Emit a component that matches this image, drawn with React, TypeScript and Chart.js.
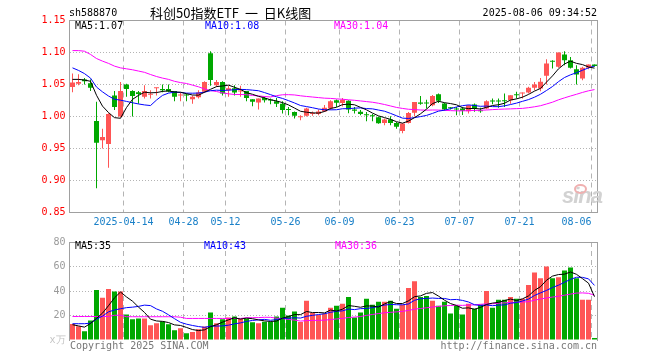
import React, { useEffect, useRef } from "react";
import { Chart, registerables } from "chart.js";

Chart.register(...registerables);

// ---------- data ----------
const dates = [
  "2025-03-31",
  "2025-04-01", "2025-04-02", "2025-04-03", "2025-04-07", "2025-04-08", "2025-04-09", "2025-04-10", "2025-04-11",
  "2025-04-14", "2025-04-15", "2025-04-16", "2025-04-17", "2025-04-18", "2025-04-21", "2025-04-22", "2025-04-23",
  "2025-04-24", "2025-04-25", "2025-04-28", "2025-04-29", "2025-04-30",
  "2025-05-06", "2025-05-07", "2025-05-08", "2025-05-09", "2025-05-12", "2025-05-13", "2025-05-14", "2025-05-15",
  "2025-05-16", "2025-05-19", "2025-05-20", "2025-05-21", "2025-05-22", "2025-05-23", "2025-05-26", "2025-05-27",
  "2025-05-28", "2025-05-29", "2025-05-30",
  "2025-06-03", "2025-06-04", "2025-06-05", "2025-06-06", "2025-06-09", "2025-06-10", "2025-06-11", "2025-06-12",
  "2025-06-13", "2025-06-16", "2025-06-17", "2025-06-18", "2025-06-19", "2025-06-20", "2025-06-23", "2025-06-24",
  "2025-06-25", "2025-06-26", "2025-06-27", "2025-06-30",
  "2025-07-01", "2025-07-02", "2025-07-03", "2025-07-04", "2025-07-07", "2025-07-08", "2025-07-09", "2025-07-10",
  "2025-07-11", "2025-07-14", "2025-07-15", "2025-07-16", "2025-07-17", "2025-07-18", "2025-07-21", "2025-07-22",
  "2025-07-23", "2025-07-24", "2025-07-25", "2025-07-28", "2025-07-29", "2025-07-30", "2025-07-31",
  "2025-08-01", "2025-08-04", "2025-08-05", "2025-08-06",
];

const opens = [
  1.046, 1.051, 1.058, 1.052, 0.993, 0.963, 0.957, 1.033, 1.0, 1.05,
  1.04, 1.038, 1.031, 1.034, 1.044, 1.043, 1.043, 1.04, 1.033, 1.034,
  1.027, 1.03, 1.0385, 1.099, 1.049, 1.054, 1.041, 1.044, 1.039, 1.04,
  1.027, 1.022, 1.029, 1.0265, 1.024, 1.02, 1.011, 1.007, 0.999, 1.001,
  1.004, 1.004, 1.008, 1.0125, 1.0255, 1.021, 1.0245, 1.011, 1.0075, 1.003,
  1.0015, 0.999, 0.99, 0.9955, 0.99, 0.9775, 0.99, 1.006, 1.022, 1.021,
  1.0175, 1.0348, 1.0205, 1.0135, 1.012, 1.0125, 1.0083, 1.0187, 1.0093, 1.0125,
  1.0245, 1.0245, 1.0255, 1.0255, 1.0335, 1.036, 1.0375, 1.0448, 1.0437, 1.0635,
  1.0865, 1.0776, 1.0969, 1.088, 1.074, 1.0594, 1.076, 1.0813,
];
const highs = [
  1.067, 1.066, 1.06, 1.058, 1.023, 0.981, 1.005, 1.04, 1.054, 1.051,
  1.041, 1.04, 1.049, 1.041, 1.045, 1.05, 1.05, 1.04, 1.037, 1.036,
  1.033, 1.041, 1.055, 1.102, 1.057, 1.055, 1.048, 1.049, 1.048, 1.04,
  1.027, 1.028, 1.031, 1.028, 1.029, 1.024, 1.015, 1.008, 1.002, 1.0135,
  1.008, 1.011, 1.018, 1.0255, 1.0265, 1.029, 1.0255, 1.015, 1.01, 1.007,
  1.004, 1.0, 0.997, 1.0005, 0.9915, 0.99, 1.007, 1.0225, 1.032, 1.026,
  1.0335, 1.036, 1.0215, 1.015, 1.015, 1.015, 1.0177, 1.0203, 1.0135, 1.0255,
  1.028, 1.028, 1.036, 1.0333, 1.0385, 1.0375, 1.0463, 1.054, 1.06, 1.0896,
  1.088, 1.1, 1.102, 1.093, 1.08, 1.0776, 1.0813, 1.0813,
];
const lows = [
  1.038, 1.049, 1.05, 1.04, 0.888, 0.95, 0.92, 1.01, 0.999, 1.031,
  1.0, 1.02, 1.028, 1.028, 1.033, 1.038, 1.038, 1.024, 1.024, 1.024,
  1.02, 1.028, 1.037, 1.048, 1.046, 1.033, 1.031, 1.033, 1.031, 1.024,
  1.016, 1.011, 1.022, 1.019, 1.015, 1.0047, 1.002, 0.997, 0.994, 1.0,
  1.001, 1.002, 1.007, 1.01, 1.015, 1.0155, 1.005, 1.0045, 1.002, 0.9925,
  0.9925, 0.9885, 0.9865, 0.9865, 0.981, 0.974, 0.989, 1.0, 1.0185, 1.0125,
  1.016, 1.021, 1.009, 1.011, 1.002, 1.0025, 1.0047, 1.0073, 1.0057, 1.0115,
  1.019, 1.0135, 1.015, 1.02, 1.028, 1.028, 1.036, 1.041, 1.0396, 1.05,
  1.075, 1.076, 1.08, 1.075, 1.05, 1.0568, 1.074, 1.0776,
];
const closes = [
  1.053, 1.054, 1.055, 1.045, 0.959, 0.968, 1.004, 1.015, 1.04, 1.043,
  1.032, 1.035, 1.04, 1.035, 1.045, 1.041, 1.039, 1.031, 1.034, 1.033,
  1.031, 1.0375, 1.054, 1.057, 1.054, 1.036, 1.044, 1.0375, 1.04, 1.029,
  1.023, 1.028, 1.0255, 1.025, 1.02, 1.01, 1.01, 1.001, 1.0, 1.0125,
  1.005, 1.008, 1.0135, 1.024, 1.0215, 1.026, 1.011, 1.009, 1.004, 1.002,
  1.0005, 0.9895, 0.9955, 0.99, 0.984, 0.989, 1.0055, 1.0225, 1.02, 1.0205,
  1.032, 1.0245, 1.011, 1.013, 1.011, 1.009, 1.0177, 1.0125, 1.0083, 1.024,
  1.0235, 1.0235, 1.024, 1.0333, 1.0333, 1.037, 1.0448, 1.05, 1.0542, 1.0828,
  1.0855, 1.1, 1.088, 1.076, 1.0656, 1.076, 1.0813, 1.079,
];
const volumes = [
  13.0, 11.3, 7.2, 16.0, 40.8, 34.4, 41.6, 39.5, 39.5, 20.8,
  17.0, 17.6, 17.6, 12.0, 13.6, 15.2, 12.9, 8.0, 9.6, 5.6,
  6.5, 8.8, 11.0, 22.4, 13.6, 16.9, 18.4, 19.1, 17.4, 17.6,
  14.4, 13.6, 15.0, 15.0, 19.2, 26.4, 20.0, 23.2, 14.7, 32.0,
  22.0, 20.4, 21.4, 26.4, 28.0, 29.6, 35.2, 18.4, 22.4, 33.6,
  28.8, 31.2, 31.2, 32.0, 25.6, 28.8, 42.4, 48.0, 35.2, 36.0,
  32.0, 28.0, 31.2, 21.6, 28.0, 20.8, 29.6, 25.6, 29.0, 40.0,
  26.4, 32.8, 32.8, 35.2, 33.6, 33.6, 44.8, 55.2, 50.4, 60.0,
  50.4, 51.2, 56.8, 59.2, 50.4, 32.8, 32.8, 1.6,
];

// moving-average values before a full window exists
const ma5Lead = [1.058, 1.058, 1.057, 1.055];
const ma10Lead = [1.076, 1.072, 1.067, 1.06, 1.046, 1.0385, 1.032, 1.027, 1.0255];
const ma30Lead = [
  1.103, 1.103, 1.102, 1.097, 1.0906, 1.0865, 1.083, 1.0787, 1.076, 1.0745,
  1.073, 1.071, 1.069, 1.0656, 1.0625, 1.06, 1.058, 1.055, 1.053, 1.0516,
  1.049, 1.0464, 1.043, 1.0405, 1.039, 1.037, 1.0354, 1.0344, 1.0344,
];
const volMa5Lead = [12.5, 11.5, 10.5, 13.5];
const volMa10Lead = [13.3, 13.3, 13.3, 13.8, 17, 19.5, 23, 24.5, 25.5];
const volMa30Lead = [
  19.2, 19.2, 19.2, 19.2, 19.2, 19.2, 19.2, 20.2, 20.2, 19.0,
  19.0, 19.0, 19.0, 19.0, 19.0, 19.0, 19.0, 19.0, 18.6, 17.6,
  17.6, 17.6, 17.6, 17.6, 17.6, 17.6, 17.6, 17.6, 17.6,
];

const tickDates = ["2025-04-14", "2025-04-28", "2025-05-12", "2025-05-26", "2025-06-09", "2025-06-23", "2025-07-07", "2025-07-21", "2025-08-06"];
const tickTexts = ["2025-04-14", "04-28", "05-12", "05-26", "06-09", "06-23", "07-07", "07-21", "08-06"];

const priceTicks = { min: 0.85, max: 1.15, step: 0.05 };
const volTicks = { min: 0, max: 80, step: 20 };

const priceLegend = ["MA5:1.07", "MA10:1.08", "MA30:1.04"];
const volLegend = ["MA5:35", "MA10:43", "MA30:36"];

// ---------- styles ----------
const RED = "#ff5555";
const GREEN = "#00a800";
const GRID = "#b4b4b4";
const BORDER = "#a0a0a0";
const MONO = "'DejaVu Sans Mono', monospace";
const MA_COLORS = ["#000000", "#0000ff", "#ff00ff"];

function movingAverage(values: number[], n: number, lead: number[]): number[] {
  return values.map((_, i) => {
    if (i < n - 1) return lead[i];
    let s = 0;
    for (let k = i - n + 1; k <= i; k++) s += values[k];
    return s / n;
  });
}

const candleColors = opens.map((o, i) => (closes[i] >= o ? RED : GREEN));
const tickIndexSet = new Set(tickDates.map((d) => dates.indexOf(d)));

function lineDs(data: number[], color: string) {
  return {
    type: "line" as const,
    data,
    borderColor: color,
    borderWidth: 1,
    pointRadius: 0,
    tension: 0,
    fill: false,
    order: 0,
    xAxisID: "x",
    yAxisID: "y",
  };
}

function frameScales() {
  return {
    xTop: {
      type: "category" as const,
      position: "top" as const,
      grid: { display: false, drawTicks: false },
      ticks: { display: false },
      border: { display: true, color: BORDER, width: 1 },
      afterFit: (s: any) => { s.height = 0; },
    },
    yRight: {
      type: "linear" as const,
      position: "right" as const,
      min: 0,
      max: 1,
      grid: { display: false, drawTicks: false },
      ticks: { display: false },
      border: { display: true, color: BORDER, width: 1 },
      afterFit: (s: any) => { s.width = 0; },
    },
  };
}

function vGrid(ctx: any) {
  return ctx.index !== undefined && tickIndexSet.has(ctx.index) ? GRID : "rgba(0,0,0,0)";
}

export default function App() {
  const priceRef = useRef<HTMLCanvasElement>(null);
  const volRef = useRef<HTMLCanvasElement>(null);

  useEffect(() => {
    const ma5 = movingAverage(closes, 5, ma5Lead);
    const ma10 = movingAverage(closes, 10, ma10Lead);
    const ma30 = movingAverage(closes, 30, ma30Lead);
    const vma5 = movingAverage(volumes, 5, volMa5Lead);
    const vma10 = movingAverage(volumes, 10, volMa10Lead);
    const vma30 = movingAverage(volumes, 30, volMa30Lead);

    const priceChart = new Chart(priceRef.current!, {
      type: "bar",
      data: {
        labels: dates,
        datasets: [
          lineDs(ma5, MA_COLORS[0]),
          lineDs(ma10, MA_COLORS[1]),
          lineDs(ma30, MA_COLORS[2]),
          {
            type: "bar",
            data: opens.map((o, i) => [Math.min(o, closes[i]), Math.max(o, closes[i])]),
            backgroundColor: candleColors,
            borderWidth: 0,
            barThickness: 5,
            grouped: false,
            minBarLength: 1,
            inflateAmount: 0,
            order: 2,
            xAxisID: "x",
            yAxisID: "y",
          } as any,
          {
            type: "bar",
            data: lows.map((l, i) => [l, highs[i]]),
            backgroundColor: candleColors,
            borderWidth: 0,
            barThickness: 1,
            grouped: false,
            inflateAmount: 0,
            order: 3,
            xAxisID: "x",
            yAxisID: "y",
          } as any,
        ],
      },
      options: {
        responsive: false,
        animation: false,
        events: [],
        layout: { padding: { left: 0, right: 62.5, top: 20.5, bottom: 0 } },
        plugins: { legend: { display: false }, tooltip: { enabled: false } },
        scales: {
          x: {
            type: "category",
            offset: true,
            grid: { offset: true, color: vGrid, lineWidth: 1, drawTicks: false },
            border: { display: true, color: BORDER, dash: [5, 4] },
            ticks: {
              autoSkip: false,
              maxRotation: 0,
              minRotation: 0,
              align: "inner",
              labelOffset: -3,
              padding: 4,
              color: "#1a80c8",
              font: { family: MONO, size: 10 },
              callback: (_v: any, idx: number) => {
                const k = tickDates.indexOf(dates[idx]);
                return k >= 0 ? tickTexts[k] : "";
              },
            },
            afterFit: (s: any) => { s.height = 19.5; },
          },
          y: {
            type: "linear",
            min: priceTicks.min,
            max: priceTicks.max,
            ticks: {
              stepSize: priceTicks.step,
              color: "#ff0000",
              padding: 4,
              font: { family: MONO, size: 10 },
              callback: (v: any) => Number(v).toFixed(2),
            },
            grid: {
              drawTicks: false,
              color: (ctx: any) => {
                const v = ctx.tick ? ctx.tick.value : NaN;
                if (Math.abs(v - priceTicks.min) < 1e-6 || Math.abs(v - priceTicks.max) < 1e-6) return "rgba(0,0,0,0)";
                return GRID;
              },
            },
            border: { display: true, color: BORDER, dash: [1, 2] },
            afterFit: (s: any) => { s.width = 69.5; },
          },
          ...frameScales(),
        } as any,
      },
    });

    const volChart = new Chart(volRef.current!, {
      type: "bar",
      data: {
        labels: dates,
        datasets: [
          lineDs(vma5, MA_COLORS[0]),
          lineDs(vma10, MA_COLORS[1]),
          lineDs(vma30, MA_COLORS[2]),
          {
            type: "bar",
            data: volumes,
            backgroundColor: candleColors,
            borderWidth: 0,
            barThickness: 5,
            grouped: false,
            inflateAmount: 0,
            order: 2,
            xAxisID: "x",
            yAxisID: "y",
          } as any,
        ],
      },
      options: {
        responsive: false,
        animation: false,
        events: [],
        layout: { padding: { left: 0, right: 62.5, top: 8.5, bottom: 20 } },
        plugins: { legend: { display: false }, tooltip: { enabled: false } },
        scales: {
          x: {
            type: "category",
            offset: true,
            grid: { offset: true, color: vGrid, lineWidth: 1, drawTicks: false },
            border: { display: false, dash: [5, 4] },
            ticks: { display: false, autoSkip: false, maxRotation: 0, minRotation: 0 },
            afterFit: (s: any) => { s.height = 0; },
          },
          y: {
            type: "linear",
            min: volTicks.min,
            max: volTicks.max,
            ticks: {
              stepSize: volTicks.step,
              padding: 4,
              color: (ctx: any) => (ctx.index === 0 ? "#c4c4c4" : "#9a9a9a"),
              font: { family: MONO, size: 10 },
              callback: (v: any) => (Number(v) === 0 ? "x万" : String(v)),
            },
            grid: {
              drawTicks: false,
              color: (ctx: any) => {
                const v = ctx.tick ? ctx.tick.value : NaN;
                if (v === volTicks.min || v === volTicks.max) return "rgba(0,0,0,0)";
                return GRID;
              },
            },
            border: { display: true, color: BORDER, dash: [1, 2] },
            afterFit: (s: any) => { s.width = 69.5; },
          },
          ...frameScales(),
        } as any,
      },
    });

    return () => {
      priceChart.destroy();
      volChart.destroy();
    };
  }, []);

  const txt = (extra: React.CSSProperties): React.CSSProperties => ({
    position: "absolute",
    fontFamily: MONO,
    fontSize: 10,
    lineHeight: "12px",
    whiteSpace: "pre",
    ...extra,
  });

  return (
    <div style={{ position: "absolute", left: 0, top: 0, width: 660, height: 360, background: "#fff", overflow: "hidden" }}>
      <canvas ref={priceRef} width={660} height={232} style={{ position: "absolute", left: 0, top: 0, width: 660, height: 232 }} />
      <canvas ref={volRef} width={660} height={128} style={{ position: "absolute", left: 0, top: 232, width: 660, height: 128 }} />

      <span style={txt({ left: 69, top: 7, color: "#000" })}>sh588870</span>
      <span style={txt({ left: 150, top: 4, color: "#000", fontFamily: "'Noto Sans CJK SC', sans-serif", fontSize: 13, lineHeight: "18px", wordSpacing: 3 })}>
        科创50指数ETF 一 日K线图
      </span>
      <span style={txt({ right: 63, top: 7, color: "#000" })}>2025-08-06 09:34:52</span>

      <span style={txt({ left: 75, top: 20, color: MA_COLORS[0] })}>{priceLegend[0]}</span>
      <span style={txt({ left: 205, top: 20, color: MA_COLORS[1] })}>{priceLegend[1]}</span>
      <span style={txt({ left: 334, top: 20, color: MA_COLORS[2] })}>{priceLegend[2]}</span>

      <span style={txt({ left: 75, top: 240, color: MA_COLORS[0] })}>{volLegend[0]}</span>
      <span style={txt({ left: 204, top: 240, color: MA_COLORS[1] })}>{volLegend[1]}</span>
      <span style={txt({ left: 335, top: 240, color: MA_COLORS[2] })}>{volLegend[2]}</span>

      <span style={txt({ left: 70, top: 340, color: "#777" })}>Copyright 2025 SINA.COM</span>
      <span style={txt({ right: 63, top: 340, color: "#777" })}>http://finance.sina.com.cn</span>

      <span
        style={{
          position: "absolute",
          left: 562,
          top: 184,
          fontFamily: "'Liberation Sans', Arial, sans-serif",
          fontWeight: "bold",
          fontStyle: "italic",
          fontSize: 22,
          lineHeight: "24px",
          color: "#d2d2d2",
          letterSpacing: -1,
        }}
      >
        sina
      </span>
      <span
        style={{
          position: "absolute",
          left: 574,
          top: 184,
          width: 13,
          height: 10,
          borderRadius: "50%",
          border: "2px solid #f0b0b0",
          boxSizing: "border-box",
        }}
      />
    </div>
  );
}
